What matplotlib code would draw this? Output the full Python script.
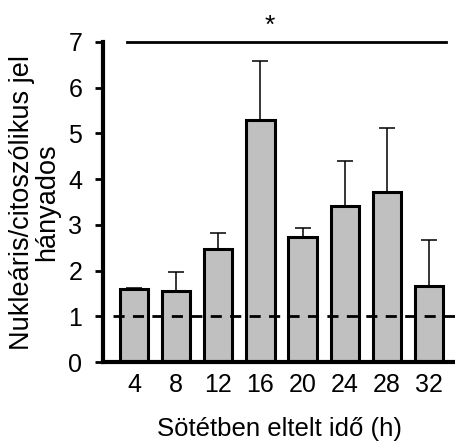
import matplotlib.pyplot as plt
import numpy as np

plt.rcParams['font.family'] = ['Liberation Sans', 'DejaVu Sans']

# adatok
idopontok = ['4', '8', '12', '16', '20', '24', '28', '32']
atlag = [1.60, 1.55, 2.47, 5.29, 2.73, 3.41, 3.72, 1.66]
hiba = [0.02, 0.42, 0.35, 1.30, 0.20, 0.99, 1.40, 1.01]

x = np.arange(len(idopontok))

fig = plt.figure(figsize=(4.56, 4.43), dpi=100)
ax = fig.add_axes([0.2259, 0.1828, 0.7741, 0.7224])

ax.bar(x, atlag, width=0.67, color='#c0c0c0', edgecolor='black', linewidth=2.2,
       yerr=[np.zeros(len(hiba)), hiba], capsize=6,
       error_kw=dict(elinewidth=1.1, capthick=1.1, ecolor='black'), zorder=2)

# 1-es referencia vonal
ax.plot([-0.5, 7.64], [1, 1], color='black', lw=2, dashes=(4, 3), zorder=3, clip_on=False)

# szignifikancia
ax.plot([-0.17, 7.40], [7, 7], color='black', lw=2, clip_on=False)
ax.text(3.23, 7.36, '*', ha='center', va='center', fontsize=19)

ax.set_xlim(-0.736, 7.64)
ax.set_ylim(0, 7)
ax.set_xticks(x)
ax.set_xticklabels(idopontok)
ax.set_yticks(range(8))
ax.tick_params(axis='x', length=0, labelsize=18, pad=8)
ax.tick_params(axis='y', length=6, width=2, labelsize=18, pad=9)
ax.spines['top'].set_visible(False)
ax.spines['right'].set_visible(False)
ax.spines['left'].set_linewidth(3)
ax.spines['bottom'].set_linewidth(3)

ax.set_xlabel('Sötétben eltelt idő (h)', fontsize=18.5, labelpad=14)
ax.set_ylabel('Nukleáris/citoszólikus jel\nhányados', fontsize=19.5, labelpad=6,
              linespacing=0.95)

fig.savefig('out.png', dpi=100)
